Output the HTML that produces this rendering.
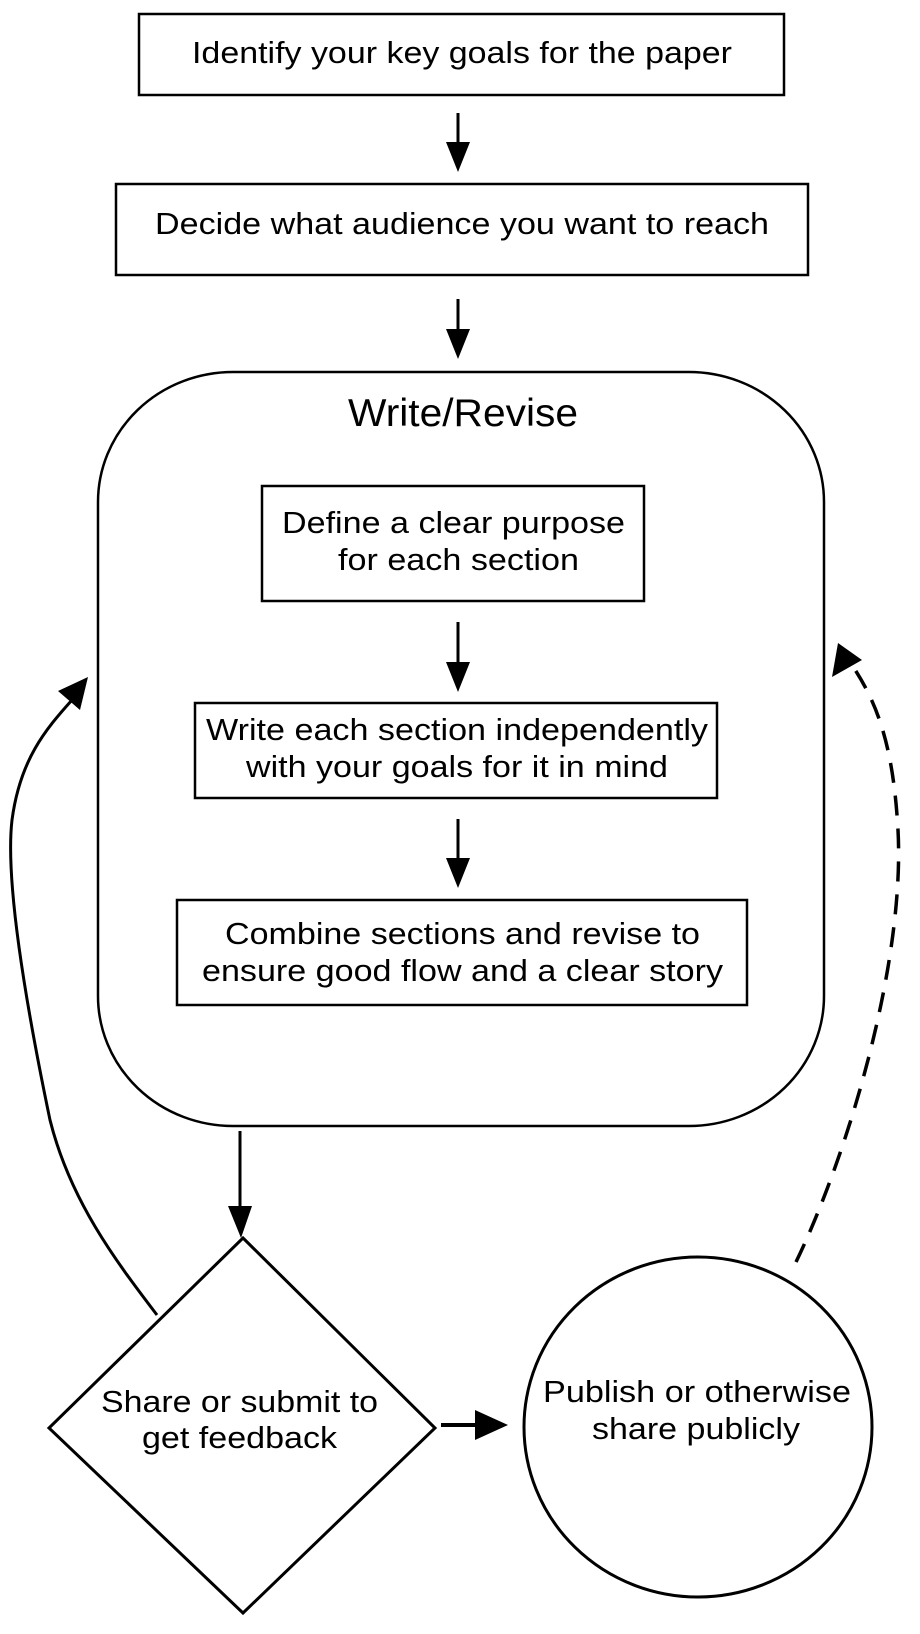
<!DOCTYPE html>
<html><head><meta charset="utf-8"><style>
html,body{margin:0;padding:0;background:#fff;width:920px;height:1634px;overflow:hidden}
svg text{font-family:"Liberation Sans",Arial,sans-serif;font-size:31px;fill:#000}
</style></head><body>
<svg width="920" height="1634" viewBox="0 0 920 1634" xmlns="http://www.w3.org/2000/svg">
<g fill="none" stroke="#000" stroke-width="2.5">
<rect x="139" y="14" width="645" height="81"/>
<rect x="116" y="184" width="692" height="91"/>
<rect x="98" y="372" width="726" height="754" rx="135" ry="130"/>
<rect x="262" y="486" width="382" height="115"/>
<rect x="195" y="703" width="522" height="95"/>
<rect x="177" y="900" width="570" height="105"/>
<polygon points="243,1238 435,1428 243,1613 49,1428" stroke-width="3"/>
<ellipse cx="698" cy="1427" rx="174" ry="170" stroke-width="3"/>
</g>
<g stroke="#000" stroke-width="3" fill="#000">
<line x1="458" y1="113" x2="458" y2="145"/><path d="M446,142 L470,142 L458,172 z" stroke="none"/>
<line x1="458" y1="299" x2="458" y2="332"/><path d="M446,329 L470,329 L458,359 z" stroke="none"/>
<line x1="458" y1="622" x2="458" y2="665"/><path d="M446,662 L470,662 L458,692 z" stroke="none"/>
<line x1="458" y1="819" x2="458" y2="861"/><path d="M446,858 L470,858 L458,888 z" stroke="none"/>
<line x1="240" y1="1131" x2="240" y2="1210"/><path d="M228,1206 L252,1206 L241,1238 z" stroke="none"/>
<line x1="441" y1="1425" x2="478" y2="1425" stroke-width="4"/><path d="M475,1410 L475,1440 L508,1425 z" stroke="none"/>
</g>
<path d="M157,1315 C115,1260 70,1200 50,1120 C25,1000 5,880 12,820 C20,760 45,730 72,700" fill="none" stroke="#000" stroke-width="3"/>
<path d="M88,677 L58,691 L80,710 z" fill="#000"/>
<path d="M796,1262 C850,1150 905,960 898,830 C893,740 875,700 852,665" fill="none" stroke="#000" stroke-width="3.5" stroke-dasharray="20,13"/>
<path d="M838,643 L832,677 L862,660 z" fill="#000"/>
<text x="192" y="63" textLength="540" lengthAdjust="spacingAndGlyphs">Identify your key goals for the paper</text>
<text x="155" y="234" textLength="614" lengthAdjust="spacingAndGlyphs">Decide what audience you want to reach</text>
<text x="348" y="426" textLength="230" lengthAdjust="spacingAndGlyphs" style="font-size:39px">Write/Revise</text>
<text x="282" y="533" textLength="343" lengthAdjust="spacingAndGlyphs">Define a clear purpose</text>
<text x="338" y="570" textLength="241" lengthAdjust="spacingAndGlyphs">for each section</text>
<text x="206" y="740" textLength="502" lengthAdjust="spacingAndGlyphs">Write each section independently</text>
<text x="246" y="777" textLength="422" lengthAdjust="spacingAndGlyphs">with your goals for it in mind</text>
<text x="225" y="944" textLength="475" lengthAdjust="spacingAndGlyphs">Combine sections and revise to</text>
<text x="202" y="981" textLength="521" lengthAdjust="spacingAndGlyphs">ensure good flow and a clear story</text>
<text x="101" y="1412" textLength="277" lengthAdjust="spacingAndGlyphs">Share or submit to</text>
<text x="142" y="1448" textLength="195" lengthAdjust="spacingAndGlyphs">get feedback</text>
<text x="543" y="1402" textLength="308" lengthAdjust="spacingAndGlyphs">Publish or otherwise</text>
<text x="592" y="1439" textLength="208" lengthAdjust="spacingAndGlyphs">share publicly</text>
</svg>
</body></html>
